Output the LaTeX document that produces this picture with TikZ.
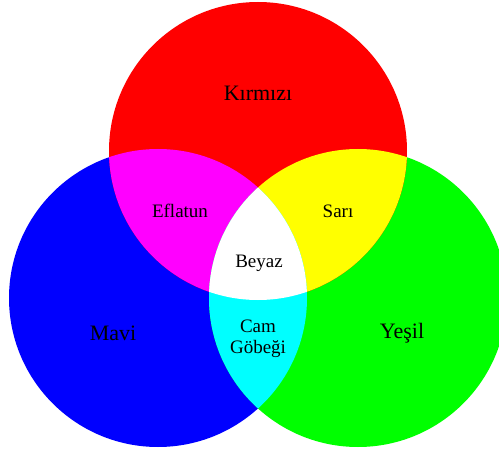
\documentclass[tikz,border=0pt]{standalone}
\usepackage{fontspec}
\setmainfont{Liberation Serif}
\usepackage{xcolor}
\usepackage{tikz}
\definecolor{pureRed}{RGB}{255,0,0}
\definecolor{pureGreen}{RGB}{0,255,0}
\definecolor{pureBlue}{RGB}{0,0,255}
\definecolor{pureMagenta}{RGB}{255,0,255}
\definecolor{pureYellow}{RGB}{255,255,0}
\definecolor{pureCyan}{RGB}{0,255,255}

\begin{document}
\begin{tikzpicture}[
        x=1pt, y=-1pt,
        big/.style={font=\fontsize{22}{24}\selectfont, align=center, inner sep=0pt},
        small/.style={font=\fontsize{19}{21}\selectfont, align=center, inner sep=0pt}
    ]
        \useasboundingbox (0,0) rectangle (499,452);
        \def\redDisc{(258,151) circle (149)}
        \def\blueDisc{(158,298) circle (149)}
        \def\greenDisc{(358,298) circle (149)}

        % base circles
        \fill[pureBlue] \blueDisc;
        \fill[pureGreen] \greenDisc;
        \fill[pureRed] \redDisc;

        % overlaps
        \begin{scope}
            \clip \redDisc;
            \fill[pureMagenta] \blueDisc;
            \fill[pureYellow] \greenDisc;
        \end{scope}
        \begin{scope}
            \clip \blueDisc;
            \fill[pureCyan] \greenDisc;
            \clip \greenDisc;
            \fill[white] \redDisc;
        \end{scope}

        \node[big] (kirmizi) at (258,93) {Kırmızı};
        \node[small] (eflatun) at (180,211) {Eflatun};
        \node[small] (sari) at (338,211) {Sarı};
        \node[small] (beyaz) at (259,263) {Beyaz};
        \node[big] (mavi) at (113,333) {Mavi};
        \node[big] (yesil) at (402,333) {Yeşil};
        \node[small] (camgobegi) at (258,339) {Cam\\Göbeği};
    \end{tikzpicture}
\end{document}
